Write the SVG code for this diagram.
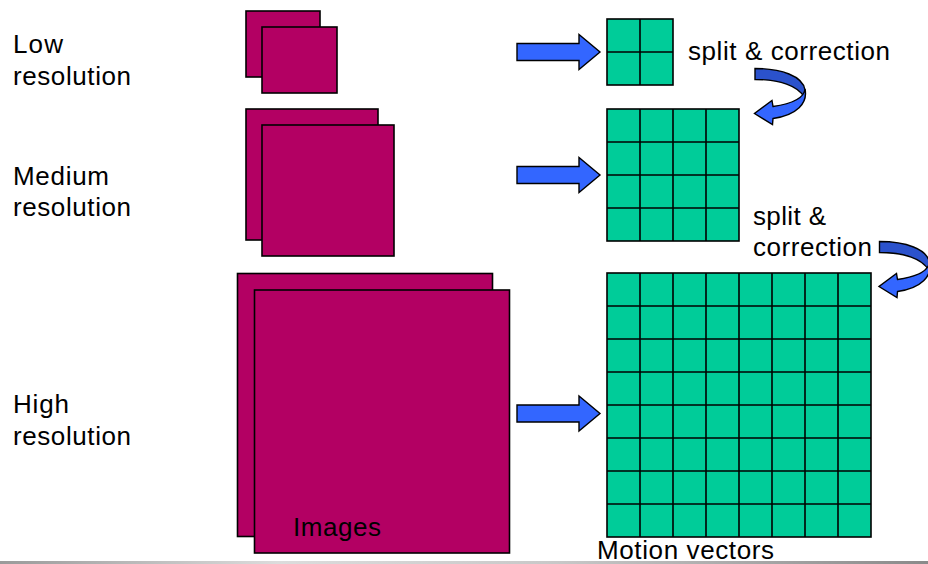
<svg xmlns="http://www.w3.org/2000/svg" width="928" height="564" viewBox="0 0 928 564">
<defs>
<style>
.img{fill:#B30063;stroke:#000;stroke-width:1.6}
.grid{fill:#00CC99;stroke:#000;stroke-width:1.6}
.gl{fill:none;stroke:#000;stroke-width:1.6}
.arr{fill:#3366FF;stroke:#000;stroke-width:1.4;stroke-linejoin:miter}
.back{fill:#2B52CC;stroke:#000;stroke-width:1.4}
.t{font-family:"Liberation Sans",Arial,sans-serif;font-size:26px;fill:#000}
</style>
<linearGradient id="bar" x1="0" y1="0" x2="1" y2="0">
<stop offset="0" stop-color="#9a9a9a"/>
<stop offset="0.3" stop-color="#dcdcdc"/>
<stop offset="0.6" stop-color="#c8c8c8"/>
<stop offset="1" stop-color="#8a8a8a"/>
</linearGradient>
<g id="straight">
<path class="arr" d="M0,-8.5 H62 V-17.5 L83,0 L62,17.5 V8.5 H0 Z"/>
</g>
<g id="curl">
<path class="back" d="M755,68.5 C781,68.5 803,76 805,90 L804,97 C798,86 780,79.5 755,79.5 Z"/>
<path class="arr" d="M805,89 C808,103 797,115 773,118.5 L772.5,124.5 L754.5,113.5 L772,100.5 L773,106.5 C790,104 804,99 805,89 Z"/>
</g>
</defs>
<rect width="928" height="564" fill="#fff"/>

<g id="labels">
<text class="t" x="13" y="53" textLength="50">Low</text>
<text class="t" x="13" y="85" textLength="118">resolution</text>
<text class="t" x="13" y="185" textLength="96">Medium</text>
<text class="t" x="13" y="216" textLength="118">resolution</text>
<text class="t" x="13" y="413" textLength="56">High</text>
<text class="t" x="13" y="445" textLength="118">resolution</text>
</g>

<g id="img-low">
<rect class="img" x="246" y="11" width="74" height="66"/>
<rect class="img" x="262" y="27" width="75" height="66"/>
</g>
<g id="img-medium">
<rect class="img" x="246" y="109" width="132" height="131"/>
<rect class="img" x="262" y="125" width="132" height="131"/>
</g>
<g id="img-high">
<rect class="img" x="237.5" y="273.5" width="255" height="263"/>
<rect class="img" x="254.5" y="290" width="255" height="263"/>
<text class="t" x="293" y="536" textLength="88">Images</text>
</g>

<g id="grid-low">
<rect class="grid" x="607" y="19" width="66" height="66"/>
<path class="gl" d="M640,19V85M607,52H673"/>
</g>
<g id="grid-medium">
<rect class="grid" x="607" y="109" width="132" height="132"/>
<path class="gl" d="M640,109V241M673,109V241M706,109V241M607,142H739M607,175H739M607,208H739"/>
</g>
<g id="grid-high">
<rect class="grid" x="607" y="273" width="264" height="264"/>
<path class="gl" d="M640,273V537M673,273V537M706,273V537M739,273V537M772,273V537M805,273V537M838,273V537M607,306H871M607,339H871M607,372H871M607,405H871M607,438H871M607,471H871M607,504H871"/>
</g>

<g id="connectors">
<use href="#straight" x="517" y="52"/>
<use href="#straight" x="517" y="175"/>
<use href="#straight" x="517" y="413.5"/>
<use href="#curl"/>
<use href="#curl" transform="translate(124.5,173)"/>
</g>

<g id="notes">
<text class="t" x="688" y="60" textLength="202">split &amp; correction</text>
<text class="t" x="753" y="225" textLength="73">split &amp;</text>
<text class="t" x="753" y="256" textLength="119">correction</text>
<text class="t" x="597" y="558.5" textLength="177">Motion vectors</text>
</g>

<rect x="0" y="561" width="928" height="3" fill="url(#bar)"/>
</svg>
